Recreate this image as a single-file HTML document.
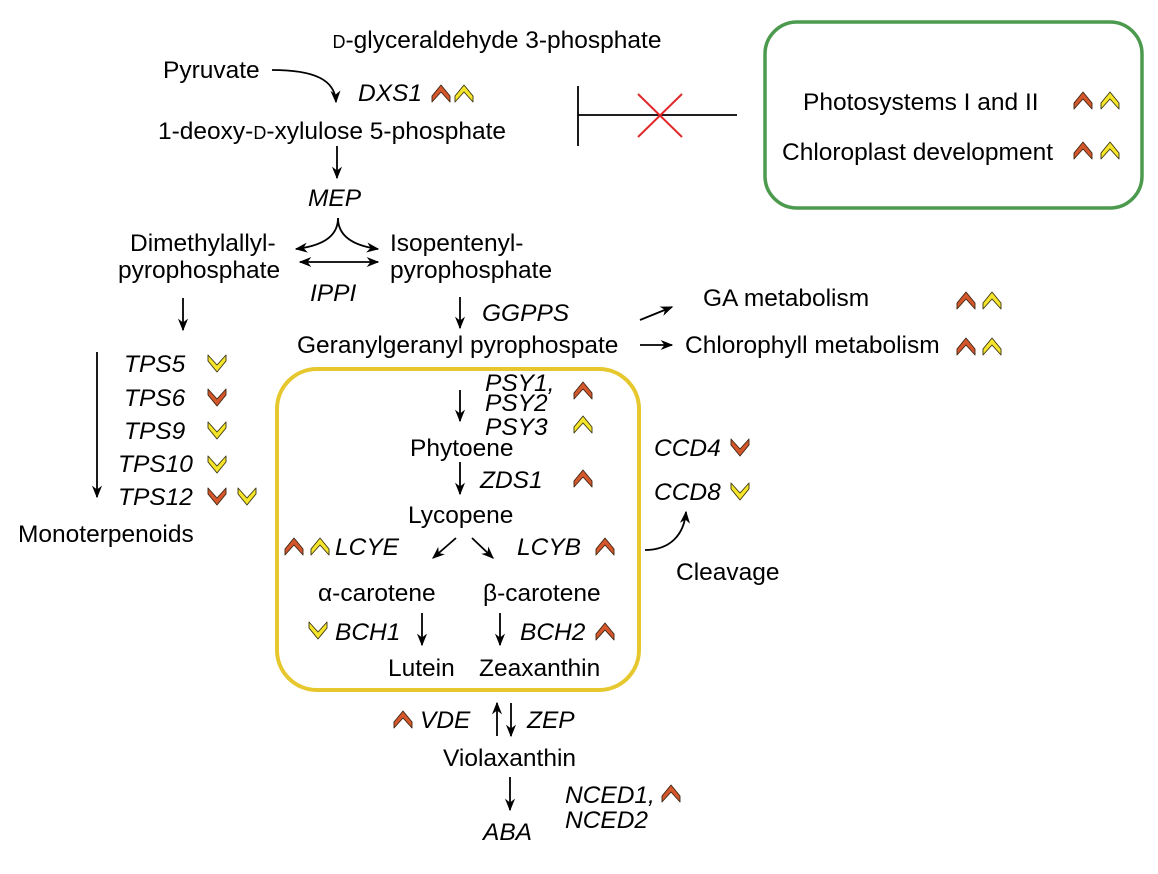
<!DOCTYPE html>
<html><head><meta charset="utf-8"><style>
html,body{margin:0;padding:0;background:#fff}
svg text{font-family:"Liberation Sans",Arial,sans-serif;font-size:24.5px;fill:#000}
.i{font-style:italic}
</style></head><body>
<svg width="1158" height="869" viewBox="0 0 1158 869" xmlns="http://www.w3.org/2000/svg">
<defs>
<marker id="a" viewBox="0 0 10 10" refX="9" refY="5" markerWidth="7" markerHeight="7" orient="auto-start-reverse"><path d="M0,1 L10,5 L0,9 L3,5z" fill="#000"/></marker>
<path id="uo" d="M-9,3 L0,-8 L9,3 L9,9 L0,-1 L-9,9 Z" fill="#d4572c" stroke="#3a2410" stroke-width="0.9" stroke-linejoin="round"/>
<path id="uy" d="M-9,3 L0,-8 L9,3 L9,9 L0,-1 L-9,9 Z" fill="#f4e42a" stroke="#3a3410" stroke-width="0.9" stroke-linejoin="round"/>
<path id="do" d="M-9,-3 L0,8 L9,-3 L9,-9 L0,1 L-9,-9 Z" fill="#d4572c" stroke="#3a2410" stroke-width="0.9" stroke-linejoin="round"/>
<path id="dy" d="M-9,-3 L0,8 L9,-3 L9,-9 L0,1 L-9,-9 Z" fill="#f4e42a" stroke="#3a3410" stroke-width="0.9" stroke-linejoin="round"/>
</defs>
<g stroke="#000" stroke-width="1.8" fill="none" marker-end="url(#a)">
<path d="M272,70 C315,70 335,80 336,102"/>
<line x1="337" y1="146" x2="337" y2="178"/>
<path d="M338,218 C338,238 320,246 296,249"/>
<path d="M338,218 C338,238 356,246 378,249"/>
<line x1="300" y1="262" x2="378" y2="262" marker-start="url(#a)"/>
<line x1="183" y1="298" x2="183" y2="330"/>
<line x1="460" y1="297" x2="460" y2="328"/>
<line x1="640" y1="320" x2="672" y2="307"/>
<line x1="640" y1="345" x2="672" y2="345"/>
<line x1="97" y1="352" x2="97" y2="497"/>
<line x1="460" y1="390" x2="460" y2="421"/>
<line x1="460" y1="462" x2="460" y2="494"/>
<line x1="456" y1="538" x2="433" y2="558"/>
<line x1="472" y1="538" x2="493" y2="558"/>
<line x1="422" y1="613" x2="422" y2="645"/>
<line x1="500" y1="613" x2="500" y2="645"/>
<path d="M645,550 C670,550 684,535 686,512"/>
<line x1="497" y1="736" x2="497" y2="703"/>
<line x1="511" y1="703" x2="511" y2="736"/>
<line x1="510" y1="777" x2="510" y2="810"/>
</g>
<g stroke="#000" stroke-width="1.8"><line x1="578" y1="86" x2="578" y2="146"/><line x1="578" y1="115" x2="737" y2="115"/></g>
<g stroke="#e0272a" stroke-width="2"><line x1="638" y1="94" x2="682" y2="137"/><line x1="682" y1="94" x2="638" y2="137"/></g>
<rect x="765" y="22" width="377" height="186" rx="32" fill="none" stroke="#4c9a4e" stroke-width="3.5"/>
<rect x="277" y="369" width="362" height="321" rx="40" fill="none" stroke="#e6c82e" stroke-width="4"/>

<text x="497" y="48" text-anchor="middle"><tspan font-size="18">D</tspan>-glyceraldehyde 3-phosphate</text>
<text x="163" y="78">Pyruvate</text>
<text x="358" y="101" class="i">DXS1</text>
<use href="#uo" x="441" y="93"/><use href="#uy" x="464" y="93"/>
<text x="158" y="139">1-deoxy-<tspan font-size="18">D</tspan>-xylulose 5-phosphate</text>
<text x="308" y="206" class="i">MEP</text>
<text x="130" y="251">Dimethylallyl-</text>
<text x="118" y="278">pyrophosphate</text>
<text x="390" y="251">Isopentenyl-</text>
<text x="390" y="278">pyrophosphate</text>
<text x="310" y="301" class="i">IPPI</text>
<text x="482" y="321" class="i">GGPPS</text>
<text x="297" y="353">Geranylgeranyl pyrophospate</text>
<text x="703" y="306">GA metabolism</text>
<use href="#uo" x="966" y="300"/><use href="#uy" x="992" y="300"/>
<text x="685" y="353">Chlorophyll metabolism</text>
<use href="#uo" x="966" y="346"/><use href="#uy" x="992" y="346"/>
<text x="803" y="110">Photosystems I and II</text>
<use href="#uo" x="1083" y="100"/><use href="#uy" x="1110" y="100"/>
<text x="782" y="160">Chloroplast development</text>
<use href="#uo" x="1083" y="150"/><use href="#uy" x="1110" y="150"/>

<text x="124" y="372" class="i">TPS5</text><use href="#dy" x="217" y="364"/>
<text x="124" y="406" class="i">TPS6</text><use href="#do" x="217" y="398"/>
<text x="124" y="439" class="i">TPS9</text><use href="#dy" x="217" y="431"/>
<text x="118" y="472" class="i">TPS10</text><use href="#dy" x="217" y="465"/>
<text x="118" y="505" class="i">TPS12</text><use href="#do" x="217" y="497"/><use href="#dy" x="247" y="497"/>
<text x="18" y="542">Monoterpenoids</text>

<text x="485" y="391" class="i">PSY1,</text>
<text x="485" y="411" class="i">PSY2</text>
<text x="485" y="435" class="i">PSY3</text>
<use href="#uo" x="583" y="390"/><use href="#uy" x="583" y="424"/>
<text x="410" y="456">Phytoene</text>
<text x="480" y="488" class="i">ZDS1</text><use href="#uo" x="583" y="478"/>
<text x="408" y="523">Lycopene</text>
<use href="#uo" x="294" y="546"/><use href="#uy" x="320" y="546"/>
<text x="335" y="555" class="i">LCYE</text>
<text x="517" y="555" class="i">LCYB</text><use href="#uo" x="605" y="546"/>
<text x="318" y="601">α-carotene</text>
<text x="483" y="601">β-carotene</text>
<use href="#dy" x="318" y="631"/><text x="335" y="640" class="i">BCH1</text>
<text x="520" y="640" class="i">BCH2</text><use href="#uo" x="605" y="631"/>
<text x="388" y="676">Lutein</text>
<text x="479" y="676">Zeaxanthin</text>
<text x="654" y="456" class="i">CCD4</text><use href="#do" x="740" y="448"/>
<text x="654" y="500" class="i">CCD8</text><use href="#dy" x="740" y="492"/>
<text x="676" y="580">Cleavage</text>
<use href="#uo" x="403" y="719"/><text x="420" y="728" class="i">VDE</text>
<text x="527" y="728" class="i">ZEP</text>
<text x="443" y="766">Violaxanthin</text>
<text x="483" y="840" class="i">ABA</text>
<text x="565" y="803" class="i">NCED1,</text>
<text x="565" y="828" class="i">NCED2</text>
<use href="#uo" x="671" y="793"/>
</svg>
</body></html>
